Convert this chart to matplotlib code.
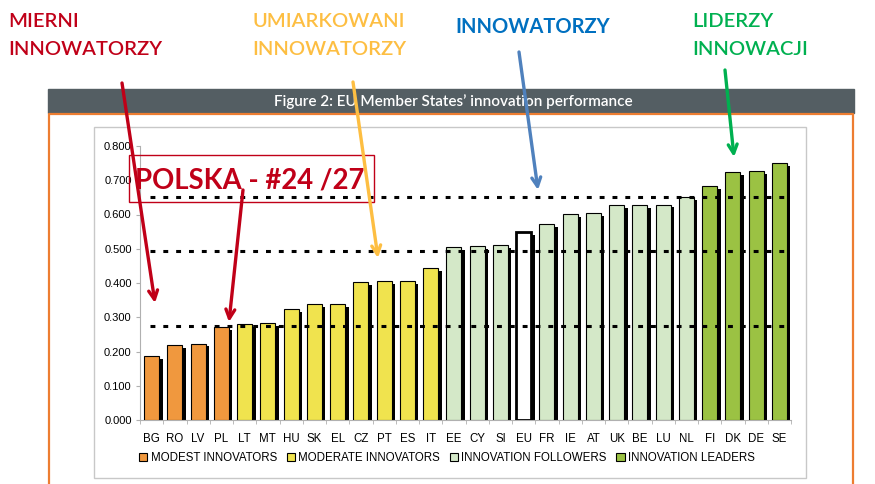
import matplotlib
matplotlib.use('Agg')
import matplotlib.pyplot as plt
from matplotlib.patches import Rectangle, Patch
import numpy as np

countries = ['BG', 'RO', 'LV', 'PL', 'LT', 'MT', 'HU', 'SK', 'EL', 'CZ', 'PT', 'ES', 'IT',
             'EE', 'CY', 'SI', 'EU', 'FR', 'IE', 'AT', 'UK', 'BE', 'LU', 'NL',
             'FI', 'DK', 'DE', 'SE']
values = [0.186, 0.219, 0.223, 0.272, 0.279, 0.283, 0.324, 0.338, 0.338, 0.402, 0.406, 0.406, 0.443,
          0.505, 0.508, 0.510, 0.549, 0.571, 0.602, 0.605, 0.627, 0.627, 0.629, 0.650,
          0.683, 0.724, 0.727, 0.750]
groups = ['modest'] * 4 + ['moderate'] * 9 + ['follower'] * 3 + ['eu'] + ['follower'] * 7 + ['leader'] * 4
thresholds = [0.274, 0.493, 0.652]
yticks = [0.0, 0.1, 0.2, 0.3, 0.4, 0.5, 0.6, 0.7, 0.8]
legend_labels = ['MODEST INNOVATORS', 'MODERATE INNOVATORS', 'INNOVATION FOLLOWERS', 'INNOVATION LEADERS']

colors = {'modest': '#F0983E', 'moderate': '#F0E34E', 'follower': '#D4E8C8',
          'leader': '#9BC243', 'eu': 'white'}

W, H = 875, 484
fig = plt.figure(figsize=(W / 100, H / 100), dpi=100)

# background layer in pixel coordinates
bg = fig.add_axes([0, 0, 1, 1], zorder=0)
bg.set_xlim(0, W)
bg.set_ylim(H, 0)
bg.axis('off')
bg.add_patch(Rectangle((48, 89), 806, 24, color='#545E63'))
bg.plot([49, 49, 853, 853], [H, 113.5, 113.5, H], color='#ED7D31', lw=1.6)
bg.add_patch(Rectangle((94, 127), 712, 351, fill=False, edgecolor='#C8C8C8', lw=1))
bg.text(453, 102, 'Figure 2: EU Member States\u2019 innovation performance', color='white',
        fontsize=11, family='Lato', weight='semibold', ha='center', va='center')

# the chart
ax = fig.add_axes([140 / W, (H - 420) / H, 651 / W, 274 / H], zorder=1)
ax.patch.set_visible(False)
x = np.arange(len(countries))
bw = 0.65
ax.bar(x + 0.15, np.array(values) - 0.008, width=bw, color='black', zorder=2)
for xi, v, g in zip(x, values, groups):
    lw = 2.0 if g == 'eu' else 0.8
    ax.bar(xi, v, width=bw, color=colors[g], edgecolor='black', lw=lw, zorder=3)
for t in thresholds:
    ax.axhline(t, xmin=0.015, xmax=0.998, color='black', lw=2.2,
               linestyle=(0, (1.6, 2.6)), zorder=4)

ax.set_xlim(-0.5, len(countries) - 0.5)
ax.set_ylim(0, 0.8)
ax.set_yticks(yticks)
ax.set_yticklabels(['%.3f' % v for v in yticks], family='Liberation Sans', fontsize=8)
ax.set_xticks(x)
ax.set_xticklabels(countries, family='Liberation Sans', fontsize=8.3)
ax.set_xticks(np.arange(len(countries) + 1) - 0.5, minor=True)
ax.tick_params(axis='x', which='major', length=0, pad=9)
ax.tick_params(axis='x', which='minor', length=3, color='#B0B0B0')
ax.tick_params(axis='y', length=3, color='#B0B0B0', pad=3)
for s in ['top', 'right']:
    ax.spines[s].set_visible(False)
for s in ['left', 'bottom']:
    ax.spines[s].set_color('#B0B0B0')

handles = [Patch(facecolor=colors[g], edgecolor='black', lw=0.8)
           for g in ['modest', 'moderate', 'follower', 'leader']]
fig.legend(handles, legend_labels, loc='center', bbox_to_anchor=(447 / W, 1 - 458 / H),
           ncol=4, frameon=False, prop={'family': 'Liberation Sans', 'size': 8.3},
           handlelength=0.7, handleheight=0.7, handletextpad=0.3, columnspacing=0.85)

# annotation layer
fg = fig.add_axes([0, 0, 1, 1], zorder=2)
fg.patch.set_visible(False)
fg.set_xlim(0, W)
fg.set_ylim(H, 0)
fg.axis('off')

red, orange, blue, green = '#C00018', '#FDBE42', '#0070C0', '#00B050'
arrow_blue = '#4F81BD'
lab = dict(family='Lato', fontsize=14.5, weight='semibold', va='top', ha='left')
fg.text(8, 13, 'MIERNI', color=red, **lab)
fg.text(8, 41, 'INNOWATORZY', color=red, **lab)
fg.text(252, 13, 'UMIARKOWANI', color=orange, **lab)
fg.text(252, 41, 'INNOWATORZY', color=orange, **lab)
fg.text(455, 17, 'INNOWATORZY', color=blue, **dict(lab, weight='bold'))
fg.text(692, 13, 'LIDERZY', color=green, **lab)
fg.text(692, 41, 'INNOWACJI', color=green, **lab)

fg.add_patch(Rectangle((129, 155), 245, 47, fill=False, edgecolor=red, lw=1))
fg.text(250, 180, 'POLSKA - #24 /27', color=red, family='Lato', weight='bold',
        fontsize=19.8, ha='center', va='center')

arrows = [((122, 83), (155, 303), red), ((243, 190), (229, 322), red),
          ((353, 82), (378, 258), orange), ((519, 52), (538, 190), arrow_blue),
          ((725, 70), (734, 157), green)]
for start, end, c in arrows:
    fg.annotate('', xy=end, xytext=start,
                arrowprops=dict(arrowstyle='->', color=c, lw=2.4, mutation_scale=16,
                                shrinkA=0, shrinkB=0))

plt.savefig('out.png', dpi=100)
